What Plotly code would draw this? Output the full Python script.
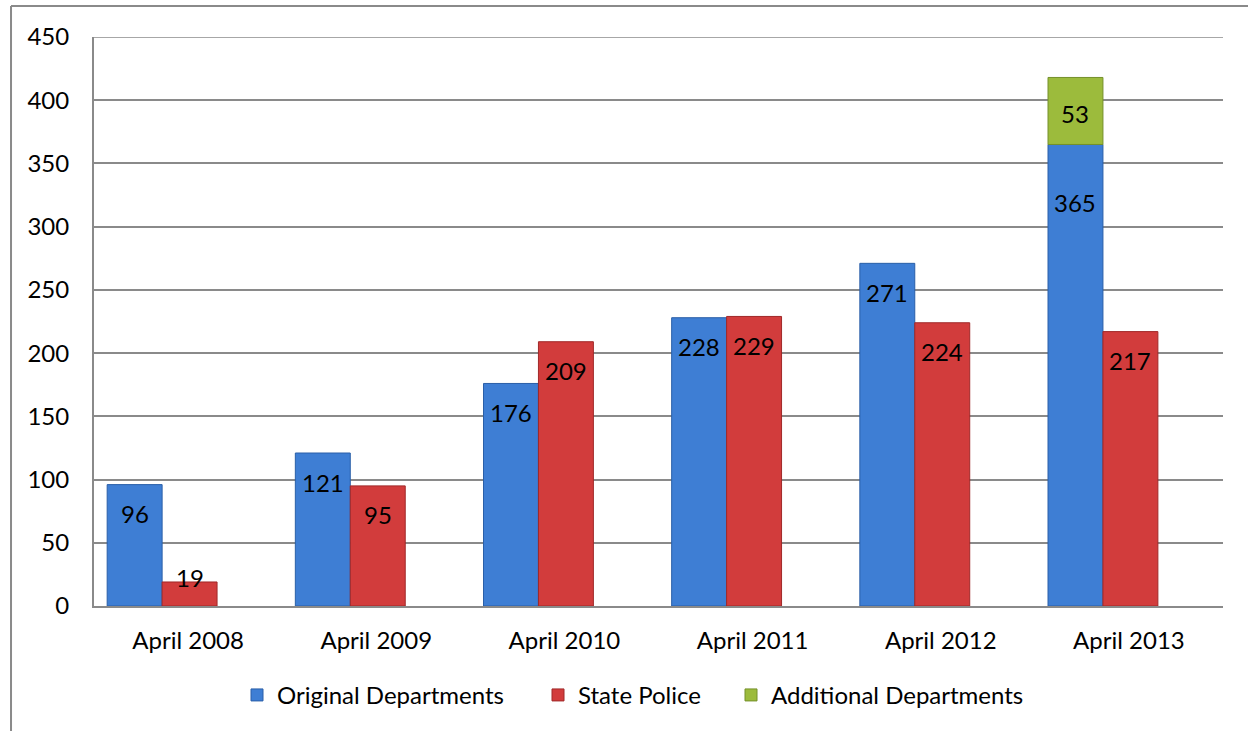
import plotly.graph_objects as go

categories = ["April 2008", "April 2009", "April 2010", "April 2011", "April 2012", "April 2013"]
original = [96, 121, 176, 228, 271, 365]
state_police = [19, 95, 209, 229, 224, 217]
additional_cat = ["April 2013"]
additional = [53]
additional_base = [365]

BLUE = "#3E7ED4"
RED = "#D23C3C"
GREEN = "#9CBB3C"
FONT = "Lato"
FS = 24

W_BAR = 0.292
OFF_BLUE = -0.43
OFF_RED = -0.138
BAND_PX = 1129 / 6

fig = go.Figure()
fig.add_trace(go.Bar(name="Original Departments", x=categories, y=original,
                     width=W_BAR, offset=OFF_BLUE, legend="legend",
                     marker=dict(color=BLUE, line=dict(color="#2A5FA8", width=1))))
fig.add_trace(go.Bar(name="State Police", x=categories, y=state_police,
                     width=W_BAR, offset=OFF_RED, legend="legend2",
                     marker=dict(color=RED, line=dict(color="#A02828", width=1))))
fig.add_trace(go.Bar(name="Additional Departments", x=additional_cat, y=additional,
                     base=additional_base, width=W_BAR, offset=OFF_BLUE, legend="legend3",
                     marker=dict(color=GREEN, line=dict(color="#74902A", width=1))))

annotations = []
xs_blue = (OFF_BLUE + W_BAR / 2) * BAND_PX
xs_red = (OFF_RED + W_BAR / 2) * BAND_PX
for c, v in zip(categories, original):
    ys = -58 if v == 365 else -29
    annotations.append(dict(x=c, y=v, xref="x", yref="y", text=str(v), showarrow=False,
                            xshift=xs_blue, yshift=ys, font=dict(family=FONT, size=FS, color="black")))
for c, v in zip(categories, state_police):
    ys = 4 if v < 30 else -29
    annotations.append(dict(x=c, y=v, xref="x", yref="y", text=str(v), showarrow=False,
                            xshift=xs_red, yshift=ys, font=dict(family=FONT, size=FS, color="black")))
for c, v, b in zip(additional_cat, additional, additional_base):
    annotations.append(dict(x=c, y=v + b, xref="x", yref="y", text=str(v), showarrow=False,
                            xshift=xs_blue, yshift=-36, font=dict(family=FONT, size=FS, color="black")))


def leg(px_left):
    return dict(orientation="h", x=(px_left - 94) / 1129, xanchor="left", y=-0.157, yanchor="middle",
                font=dict(family=FONT, size=FS), bgcolor="rgba(0,0,0,0)")


fig.update_layout(
    barmode="overlay",
    width=1248, height=731,
    margin=dict(l=94, r=25, t=37, b=125),
    paper_bgcolor="white", plot_bgcolor="white",
    font=dict(family=FONT, size=FS, color="black"),
    annotations=annotations,
    showlegend=True,
    legend=leg(251 - 14),
    legend2=leg(552 - 14),
    legend3=leg(745 - 14),
    shapes=[
        dict(type="line", xref="paper", yref="paper", x0=-0.0735, x1=-0.0735, y0=1.0545, y1=-0.23,
             line=dict(color="#8A8A8A", width=2)),
        dict(type="line", xref="paper", yref="paper", x0=-0.0735, x1=1.03, y0=1.0545, y1=1.0545,
             line=dict(color="#8A8A8A", width=2)),
        dict(type="line", xref="paper", yref="y", x0=0, x1=1, y0=450, y1=450,
             line=dict(color="#8A8A8A", width=1.5), layer="below"),
    ],
)
fig.update_xaxes(categoryorder="array", categoryarray=categories, range=[-0.5, 5.5],
                 showline=True, linecolor="#8A8A8A", linewidth=2, showgrid=False,
                 ticks="", tickfont=dict(family=FONT, size=FS), ticklabelstandoff=12)
fig.update_yaxes(range=[0, 450], dtick=50, showline=True, linecolor="#8A8A8A", linewidth=2,
                 showgrid=True, gridcolor="#8A8A8A", gridwidth=1.5, zeroline=False,
                 ticks="", tickfont=dict(family=FONT, size=FS), ticklabelstandoff=18)

fig.write_html("out.html", config={"displayModeBar": False},
               post_script="document.body.style.margin='0';document.body.style.overflow='hidden';")
